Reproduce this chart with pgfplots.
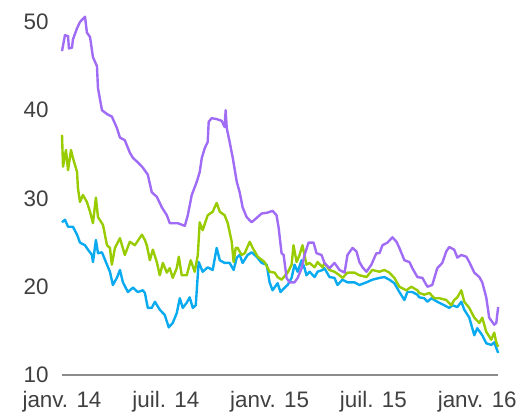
\documentclass[border=0pt]{standalone}
\usepackage{pgfplots}
\pgfplotsset{compat=1.18}
\usepackage{fontspec}
\setmainfont{Liberation Sans}

\definecolor{cpurple}{HTML}{A06CF6}
\definecolor{cgreen}{HTML}{99CC00}
\definecolor{cblue}{HTML}{0AAAF0}
\definecolor{textgray}{HTML}{404040}
\definecolor{axisgray}{HTML}{8C8C8C}

\begin{document}
\begin{tikzpicture}
\useasboundingbox (-62bp,-40bp) rectangle (464bp,375bp);
\begin{axis}[
	at={(0,0)}, anchor=south west,
	scale only axis,
	width=436bp, height=353bp,
	xmin=0, xmax=25.2,
	ymin=10, ymax=50,
	clip=false,
	axis x line*=bottom,
	axis y line*=left,
	y axis line style={draw=none},
	x axis line style={-, draw=axisgray, line width=2.2bp},
	major tick length=0pt,
	xtick={0,6,12,18,24},
	xticklabels={janv. 14, juil. 14, janv. 15, juil. 15, janv. 16},
	ytick={10,20,30,40,50},
	/pgf/number format/assume math mode=true,
	tick label style={font=\fontsize{22.5}{26}\selectfont, text=textgray},
	yticklabel style={xshift=-10bp},
	xticklabel style={yshift=-13bp},
	every axis plot/.append style={line width=2.4bp, line join=round},
]

% bleu
\addplot[color=cblue] coordinates {
(0,27.3) (0.17,27.6) (0.35,26.8) (0.63,26.8) (0.87,25.9) (1.04,25.0) (1.33,24.7)
(1.50,24.2) (1.73,23.6) (1.79,22.8) (1.96,25.3) (2.08,23.8) (2.31,23.9) (2.60,22.5)
(2.77,21.7) (2.94,20.2) (3.17,21.0) (3.35,21.9) (3.52,20.5) (3.81,19.4) (4.10,19.9)
(4.38,19.4) (4.67,19.6) (4.79,19.3) (4.96,17.6) (5.19,17.6) (5.37,18.3) (5.65,17.4)
(5.94,16.8) (6.17,15.4) (6.40,15.9) (6.63,17.0) (6.81,18.7) (6.98,17.6) (7.21,18.2)
(7.38,18.8) (7.56,17.6) (7.73,17.9) (7.90,22.8) (8.13,21.7) (8.42,22.2) (8.71,21.9)
(8.94,24.4) (9.12,23.0) (9.40,22.7) (9.69,22.7) (9.92,21.9) (10.10,23.3) (10.27,23.6)
(10.44,22.7) (10.73,23.6) (10.96,23.9) (11.25,23.4) (11.54,22.7) (11.83,22.5) (12.00,20.5)
(12.17,19.6) (12.46,20.4) (12.63,19.4) (12.87,19.9) (13.04,20.2) (13.27,21.0) (13.44,22.5)
(13.62,21.7) (13.85,23.0) (14.02,22.1) (14.13,21.3) (14.31,21.7) (14.60,21.1) (14.77,21.7)
(15.06,21.9) (15.17,22.1) (15.46,21.1) (15.75,21.0) (15.92,20.2) (16.21,20.8) (16.50,20.5)
(16.90,20.5) (17.19,20.2) (17.60,20.5) (17.94,20.8) (18.35,21.0) (18.63,21.1) (18.92,20.8)
(19.21,20.4) (19.50,19.4) (19.79,18.5) (19.96,19.4) (20.25,19.4) (20.54,19.1) (20.65,18.8)
(20.94,18.7) (21.12,18.3) (21.35,18.7) (21.69,18.3) (22.10,17.9) (22.38,17.6) (22.56,17.9)
(22.85,17.7) (23.08,18.3) (23.25,17.4) (23.54,16.5) (23.83,14.5) (24.00,15.3) (24.29,14.5)
(24.52,13.6) (24.81,13.4) (24.98,13.7) (25.21,12.5)
};

% vert
\addplot[color=cgreen] coordinates {
(0,37.2) (0.06,33.6) (0.23,35.5) (0.35,33.2) (0.52,35.5) (0.63,34.6) (0.87,33.0)
(0.92,31.2) (1.04,29.6) (1.21,30.4) (1.44,29.6) (1.62,28.5) (1.79,27.2) (1.96,30.1)
(2.08,27.9) (2.37,27.0) (2.60,24.7) (2.77,24.4) (2.88,22.5) (3.06,24.4) (3.35,25.5)
(3.63,23.6) (3.92,25.1) (4.21,24.7) (4.62,25.9) (4.79,25.3) (4.90,24.7) (5.08,23.0)
(5.19,23.8) (5.25,24.2) (5.48,22.8) (5.65,21.3) (5.83,22.7) (6.06,21.6) (6.23,22.1)
(6.40,21.0) (6.63,22.1) (6.75,23.4) (6.92,21.3) (7.21,21.3) (7.44,23.0) (7.67,21.7)
(7.85,23.6) (7.96,27.3) (8.13,26.4) (8.42,28.1) (8.71,28.5) (8.94,29.5) (9.12,28.5)
(9.40,28.1) (9.58,27.2) (9.81,25.1) (9.92,22.8) (10.04,24.4) (10.15,24.4) (10.38,23.6)
(10.56,23.8) (10.85,25.1) (11.02,24.4) (11.31,23.4) (11.71,22.8) (12.00,21.7) (12.29,21.6)
(12.46,21.1) (12.69,20.8) (13.04,21.6) (13.27,22.5) (13.38,24.7) (13.56,22.8) (13.73,23.6)
(13.90,24.7) (14.13,22.5) (14.31,22.7) (14.60,22.2) (14.77,22.8) (15.06,22.2) (15.17,22.7)
(15.46,21.9) (15.75,21.7) (16.04,21.3) (16.21,21.0) (16.50,21.6) (16.90,21.6) (17.19,21.3)
(17.60,21.1) (17.94,21.9) (18.35,21.7) (18.63,21.9) (18.92,21.6) (19.21,21.0) (19.50,20.0)
(19.90,19.6) (20.19,20.0) (20.54,19.6) (20.65,19.3) (20.94,19.1) (21.23,19.3) (21.52,18.7)
(21.81,18.7) (22.21,18.5) (22.50,17.9) (22.67,18.5) (22.85,18.8) (23.08,19.6) (23.25,18.3)
(23.54,17.6) (23.83,16.5) (24.12,15.9) (24.29,16.5) (24.52,14.9) (24.81,14.0) (24.98,14.8)
(25.10,13.7) (25.21,13.2)
};

% violet
\addplot[color=cpurple] coordinates {
(0,46.7) (0.17,48.5) (0.35,48.4) (0.40,47.0) (0.58,47.1) (0.63,48.0) (0.87,49.3)
(1.04,50.0) (1.33,50.6) (1.44,48.8) (1.62,48.3) (1.79,46.0) (2.02,45.0) (2.08,42.5)
(2.31,40.0) (2.65,39.5) (2.88,39.3) (3.17,38.0) (3.35,36.9) (3.63,36.6) (3.92,35.2)
(4.10,34.6) (4.38,34.1) (4.67,33.5) (4.96,32.7) (5.19,30.7) (5.48,30.2) (5.77,29.0)
(6.06,28.1) (6.23,27.2) (6.69,27.2) (7.10,26.9) (7.27,28.1) (7.50,30.4) (7.79,31.9)
(7.96,33.0) (8.08,34.6) (8.25,35.7) (8.42,36.4) (8.48,38.7) (8.65,39.1) (8.94,39.0)
(9.23,38.8) (9.40,38.1) (9.46,40.0) (9.52,38.0) (9.69,36.4) (9.87,34.6) (10.10,31.9)
(10.27,30.7) (10.44,29.0) (10.67,27.9) (10.96,27.3) (11.25,27.8) (11.54,28.3) (11.88,28.4)
(12.17,28.6) (12.40,28.1) (12.52,26.7) (12.69,23.8) (12.81,23.6) (12.98,21.0) (13.15,20.5)
(13.44,20.5) (13.62,21.0) (13.85,22.1) (14.02,23.6) (14.25,25.0) (14.54,25.0) (14.71,23.8)
(15.00,23.6) (15.17,22.7) (15.46,22.1) (15.75,22.7) (16.04,21.9) (16.33,21.6) (16.50,23.6)
(16.79,24.4) (17.02,24.0) (17.19,22.8) (17.37,22.2) (17.60,21.7) (17.88,22.5) (18.17,23.8)
(18.35,23.8) (18.52,24.7) (18.81,25.0) (19.10,25.6) (19.33,25.1) (19.50,24.4) (19.79,23.0)
(20.08,22.8) (20.25,22.1) (20.54,21.1) (20.83,21.0) (21.12,20.0) (21.40,20.2) (21.69,22.1)
(21.98,22.7) (22.21,24.0) (22.38,24.5) (22.67,24.2) (22.85,23.3) (23.08,23.6) (23.37,23.4)
(23.54,22.8) (23.83,21.6) (24.12,21.1) (24.29,20.5) (24.52,18.8) (24.69,16.5) (24.98,15.7)
(25.10,15.9) (25.21,17.7)
};

\end{axis}
\end{tikzpicture}
\end{document}
